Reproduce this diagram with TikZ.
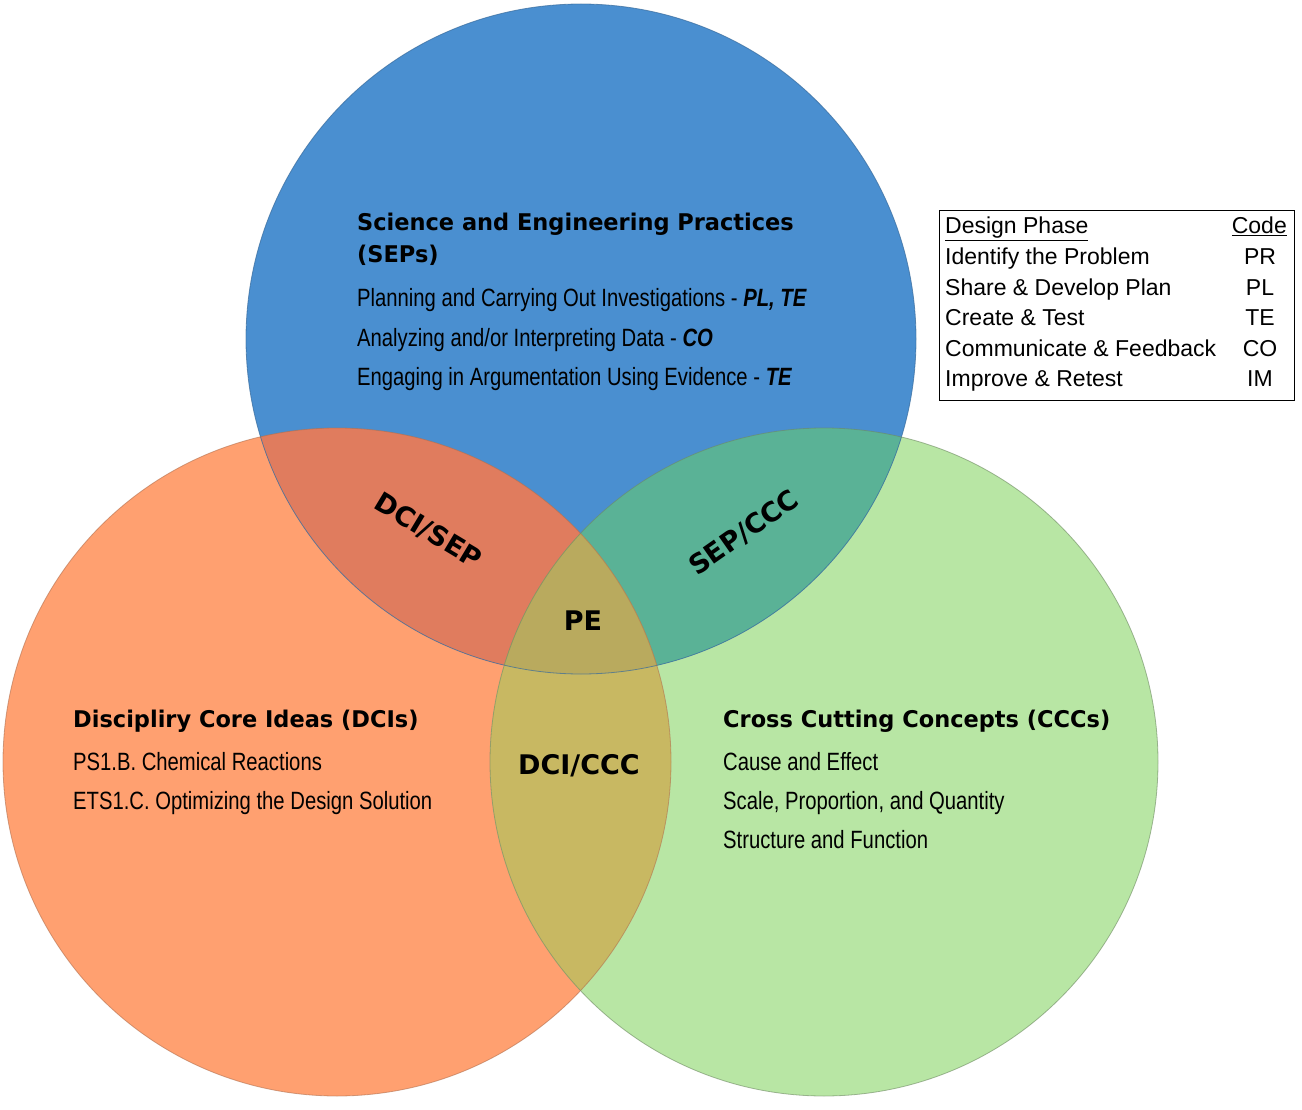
\documentclass[tikz,border=0pt]{standalone}
\usepackage{fontspec}
\setmainfont{Liberation Sans}
\newfontfamily\hdfont[FakeStretch=0.977]{DejaVu Sans}
\newfontfamily\rgfont{DejaVu Sans}
\newfontfamily\nrfont[FakeStretch=0.81]{Liberation Sans}
\definecolor{cblue}{RGB}{74,143,208}
\definecolor{corange}{RGB}{255,160,112}
\definecolor{cgreen}{RGB}{184,230,164}
\definecolor{cds}{RGB}{224,124,94}
\definecolor{csc}{RGB}{90,178,150}
\definecolor{cdc}{RGB}{200,184,98}
\definecolor{cpe}{RGB}{185,170,94}
\tikzset{
  title/.style={anchor=base west,inner sep=0pt,font=\hdfont\bfseries\fontsize{23}{33}\selectfont},
  item/.style={anchor=base west,inner sep=0pt,font=\nrfont\fontsize{25}{28}\selectfont},
  region/.style={inner sep=0pt,font=\rgfont\bfseries\fontsize{27}{30}\selectfont},
  tab/.style={inner sep=0pt,font=\fontsize{23}{26}\selectfont},
}
\begin{document}
\begin{tikzpicture}[x=1pt,y=-1pt]
\useasboundingbox (0,0) rectangle (1302,1110);
\fill[white] (0,0) rectangle (1302,1110);
% circles
\def\blue{(581,339) circle (335)}
\def\orng{(337,762) circle (334)}
\def\grn{(824,762) circle (334)}
\fill[corange] \orng;
\fill[cgreen] \grn;
\fill[cblue] \blue;
\begin{scope}\clip \orng; \fill[cds] \blue; \end{scope}
\begin{scope}\clip \grn; \fill[csc] \blue; \end{scope}
\begin{scope}\clip \orng; \fill[cdc] \grn; \end{scope}
\begin{scope}\clip \orng; \clip \grn; \fill[cpe] \blue; \end{scope}
\draw[line width=0.8pt,cblue!75!black,opacity=0.7] \blue;
\draw[line width=0.8pt,corange!70!black,opacity=0.6] \orng;
\draw[line width=0.8pt,cgreen!60!black,opacity=0.6] \grn;
% SEP
\node[title] (sept) at (357,231) {Science and Engineering Practices};
\node[title] (septb) at (357,263) {(SEPs)};
\node[item] (sep1) at (357,307) {Planning and Carrying Out Investigations - \textbf{\textit{PL, TE}}};
\node[item] (sep2) at (357,346) {Analyzing and/or Interpreting Data - \textbf{\textit{CO}}};
\node[item] (sep3) at (357,385) {Engaging in Argumentation Using Evidence - \textbf{\textit{TE}}};
% DCI
\node[title] (dcit) at (73,727) {Discipliry Core Ideas (DCIs)};
\node[item] (dci1) at (73,770) {PS1.B. Chemical Reactions};
\node[item] (dci2) at (73,809) {ETS1.C. Optimizing the Design Solution};
% CCC
\node[title] (ccct) at (723,727) {Cross Cutting Concepts (CCCs)};
\node[item] (ccc1) at (723,770) {Cause and Effect};
\node[item] (ccc2) at (723,809) {Scale, Proportion, and Quantity};
\node[item] (ccc3) at (723,848) {Structure and Function};
% regions
\node[region,rotate=-31] (ds) at (428,531) {DCI/SEP};
\node[region,rotate=35] (sc) at (744,533) {SEP/CCC};
\node[region] (pe) at (583,621) {PE};
\node[region] (dc) at (579,766) {DCI/CCC};
% table
\node[draw=black,line width=1pt,minimum width=355,minimum height=190,anchor=north west,inner sep=0pt] (tbl) at (939,210) {};
\node[tab,anchor=base west] (h1) at (945,234) {\underline{Design Phase}};
\node[tab,anchor=base east] (h2) at (1287,234) {\underline{Code}};
\node[tab,anchor=base west] (r1) at (945,265) {Identify the Problem};
\node[tab,anchor=base west] (r2) at (945,295) {Share \& Develop Plan};
\node[tab,anchor=base west] (r3) at (945,325) {Create \& Test};
\node[tab,anchor=base west] (r4) at (945,356) {Communicate \& Feedback};
\node[tab,anchor=base west] (r5) at (945,386) {Improve \& Retest};
\node[tab,anchor=base] (c1) at (1260,265) {PR};
\node[tab,anchor=base] (c2) at (1260,295) {PL};
\node[tab,anchor=base] (c3) at (1260,325) {TE};
\node[tab,anchor=base] (c4) at (1260,356) {CO};
\node[tab,anchor=base] (c5) at (1260,386) {IM};
\end{tikzpicture}
\end{document}
